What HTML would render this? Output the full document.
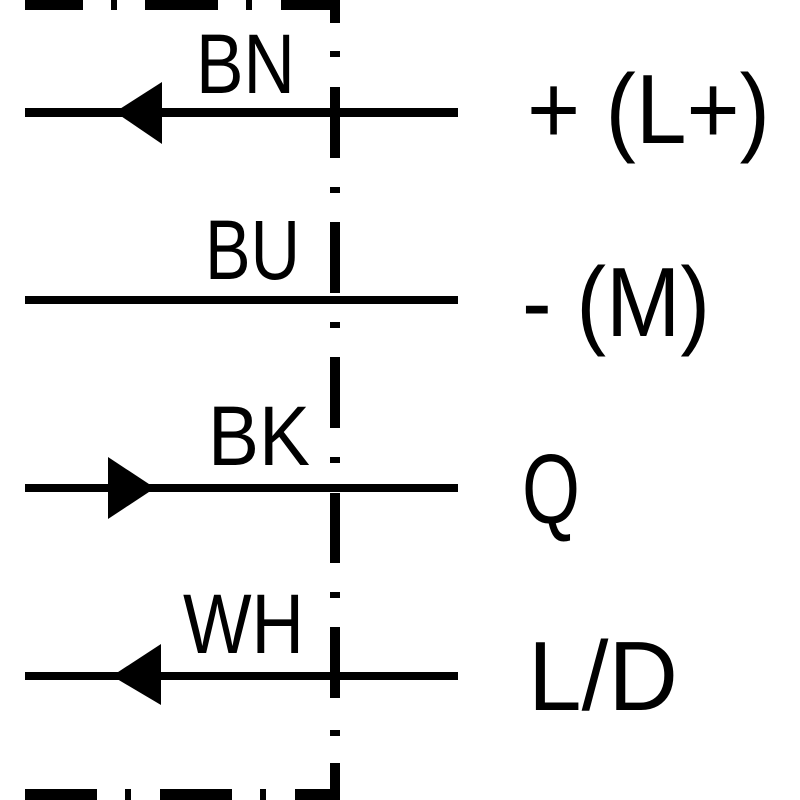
<!DOCTYPE html>
<html><head><style>html,body{margin:0;padding:0;background:#fff;}svg{display:block}text{font-family:"Liberation Sans",Arial,sans-serif;}</style></head>
<body>
<svg width="800" height="800" viewBox="0 0 800 800" xmlns="http://www.w3.org/2000/svg">
<g fill="#000">
<rect x="25" y="0" width="58" height="10"/>
<rect x="111" y="0" width="6" height="10"/>
<rect x="145" y="0" width="73" height="10"/>
<rect x="246" y="0" width="6" height="10"/>
<rect x="281" y="0" width="59" height="10"/>
<rect x="25" y="789" width="72" height="11"/>
<rect x="125" y="789" width="6" height="11"/>
<rect x="160" y="789" width="72" height="11"/>
<rect x="260" y="789" width="6" height="11"/>
<rect x="295" y="789" width="45" height="11"/>
<rect x="330" y="0" width="10" height="23"/>
<rect x="330" y="51" width="10" height="6"/>
<rect x="330" y="87" width="10" height="71"/>
<rect x="330" y="187" width="10" height="6"/>
<rect x="330" y="222" width="10" height="71"/>
<rect x="330" y="322" width="10" height="6"/>
<rect x="330" y="357" width="10" height="71"/>
<rect x="330" y="457" width="10" height="6"/>
<rect x="330" y="493" width="10" height="70"/>
<rect x="330" y="592" width="10" height="6"/>
<rect x="330" y="627" width="10" height="71"/>
<rect x="330" y="730" width="10" height="6"/>
<rect x="330" y="763" width="10" height="37"/>
<rect x="25" y="108" width="433" height="9"/>
<rect x="25" y="296" width="433" height="8"/>
<rect x="25" y="484" width="433" height="8"/>
<rect x="25" y="672" width="433" height="8"/>
<polygon points="115,112 162,82 162,144"/>
<polygon points="155,488 108,457 108,519"/>
<polygon points="112,676 161,644 161,705"/>
</g>
<g fill="#000">
<text x="196" y="93" font-size="84" textLength="99" lengthAdjust="spacingAndGlyphs">BN</text>
<text x="205" y="279" font-size="84" textLength="95" lengthAdjust="spacingAndGlyphs">BU</text>
<text x="208" y="465" font-size="84" textLength="102" lengthAdjust="spacingAndGlyphs">BK</text>
<text x="183" y="653" font-size="84" textLength="121" lengthAdjust="spacingAndGlyphs">WH</text>
<text x="527" y="143" font-size="98" textLength="243" lengthAdjust="spacingAndGlyphs">+ (L+)</text>
<text x="522" y="336" font-size="98" textLength="188" lengthAdjust="spacingAndGlyphs">- (M)</text>
<text x="522" y="523" font-size="98" textLength="58" lengthAdjust="spacingAndGlyphs">Q</text>
<text x="528" y="710" font-size="98" textLength="150" lengthAdjust="spacingAndGlyphs">L/D</text>
</g>
</svg>
</body></html>
